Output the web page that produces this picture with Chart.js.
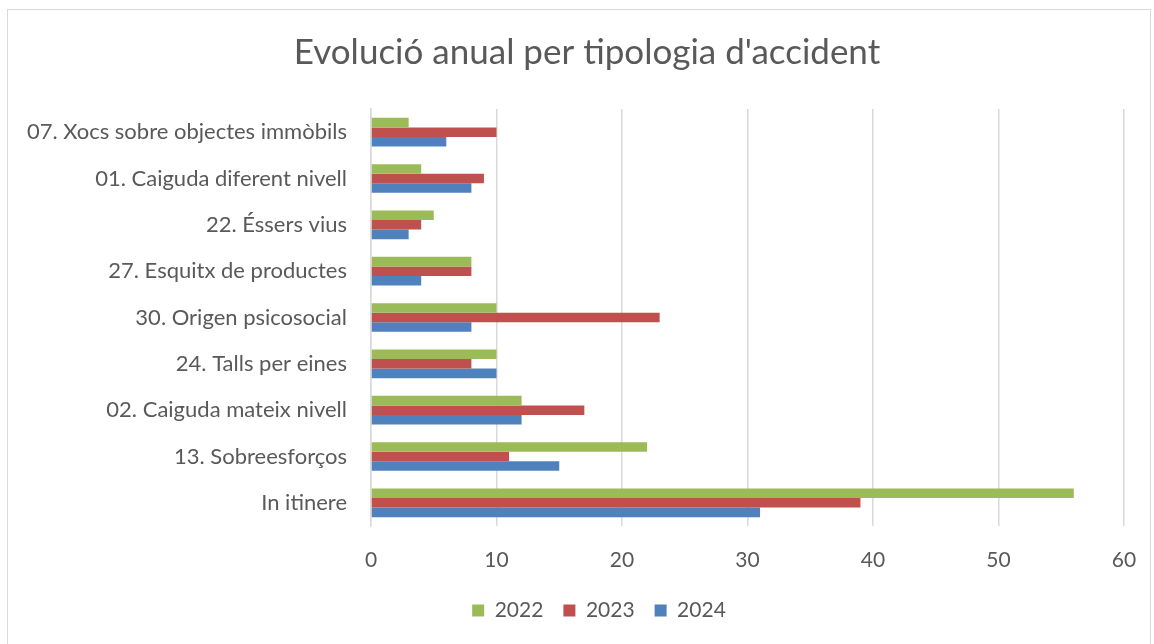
<!DOCTYPE html>
<html>
<head>
<meta charset="utf-8">
<script src="https://cdn.jsdelivr.net/npm/chart.js@4/dist/chart.umd.min.js"></script>
<style>
  html, body { margin: 0; padding: 0; background: #fff; overflow: hidden; }
  #wrap { position: relative; width: 1154px; height: 644px; }
  #frame { position: absolute; left: 7px; top: 9px; width: 1142px; height: 660px; border: 1px solid #d9d9d9; pointer-events: none; }
</style>
</head>
<body>
<div id="wrap">
  <canvas id="accidentChart" width="1154" height="644"></canvas>
  <div id="frame"></div>
</div>
<script>
// categories, top to bottom as in the picture
var categories = [
  "07. Xocs sobre objectes immòbils",
  "01. Caiguda diferent nivell",
  "22. Éssers vius",
  "27. Esquitx de productes",
  "30. Origen psicosocial",
  "24. Talls per eines",
  "02. Caiguda mateix nivell",
  "13. Sobreesforços",
  "In itinere"
];
var years = ["2022", "2023", "2024"];
var values2022 = [3, 4, 5, 8, 10, 10, 12, 22, 56];
var values2023 = [10, 9, 4, 8, 23, 8, 17, 11, 39];
var values2024 = [6, 8, 3, 4, 8, 10, 12, 15, 31];
var xTicks = [0, 10, 20, 30, 40, 50, 60];

var colors = ["#9BBB59", "#C0504D", "#4F81BD"];
var fontFamily = "Lato, 'Open Sans', sans-serif";
var textColor = "#595959";

function makeDataset(i, data) {
  return {
    label: years[i],
    data: data,
    backgroundColor: colors[i],
    borderWidth: 0,
    categoryPercentage: 0.62,
    barPercentage: 1.0
  };
}

// title and legend sit a little right of the canvas centre in the original
var blockShift = {
  id: 'blockShift',
  afterLayout: function (chart) {
    if (chart.titleBlock) {
      chart.titleBlock.left += 40;
    }
    if (chart.legend) {
      chart.legend.left += 64;
    }
  }
};

function createAccidentChart() {
  var ctx = document.getElementById('accidentChart').getContext('2d');

  window.accidentChart = new Chart(ctx, {
    type: 'bar',
    data: {
      labels: categories,
      datasets: [
        makeDataset(0, values2022),
        makeDataset(1, values2023),
        makeDataset(2, values2024)
      ]
    },
    options: {
      indexAxis: 'y',
      responsive: false,
      animation: false,
      layout: { padding: { top: 32, left: 10, right: 30, bottom: 13 } },
      scales: {
        x: {
          min: 0,
          max: 60,
          afterBuildTicks: function (axis) {
            axis.ticks = xTicks.map(function (v) { return { value: v }; });
          },
          afterFit: function (axis) {
            axis.height = 54;
            axis.paddingLeft = 0;
            axis.paddingRight = 0;
          },
          grid: { color: "#d9d9d9", lineWidth: 1.5, drawTicks: false },
          border: { display: false },
          ticks: { color: textColor, padding: 22, font: { family: fontFamily, size: 21 } }
        },
        y: {
          afterFit: function (axis) {
            axis.width = 371 - 10;
            axis.paddingTop = 0;
            axis.paddingBottom = 0;
          },
          grid: { display: false },
          border: { display: true, color: "#d9d9d9", width: 1.5 },
          ticks: { color: textColor, padding: 16, font: { family: fontFamily, size: 22 } }
        }
      },
      plugins: {
        title: {
          display: true,
          text: "Evolució anual per tipologia d'accident",
          color: textColor,
          font: { family: fontFamily, size: 35, weight: 'normal' },
          padding: { top: 0, bottom: 35 }
        },
        legend: {
          position: 'bottom',
          labels: {
            color: textColor,
            boxWidth: 12,
            boxHeight: 12,
            padding: 20,
            font: { family: fontFamily, size: 21 }
          }
        },
        tooltip: { enabled: false }
      }
    },
    plugins: [blockShift]
  });
}

document.addEventListener('DOMContentLoaded', function () {
  createAccidentChart();
});
</script>
</body>
</html>
